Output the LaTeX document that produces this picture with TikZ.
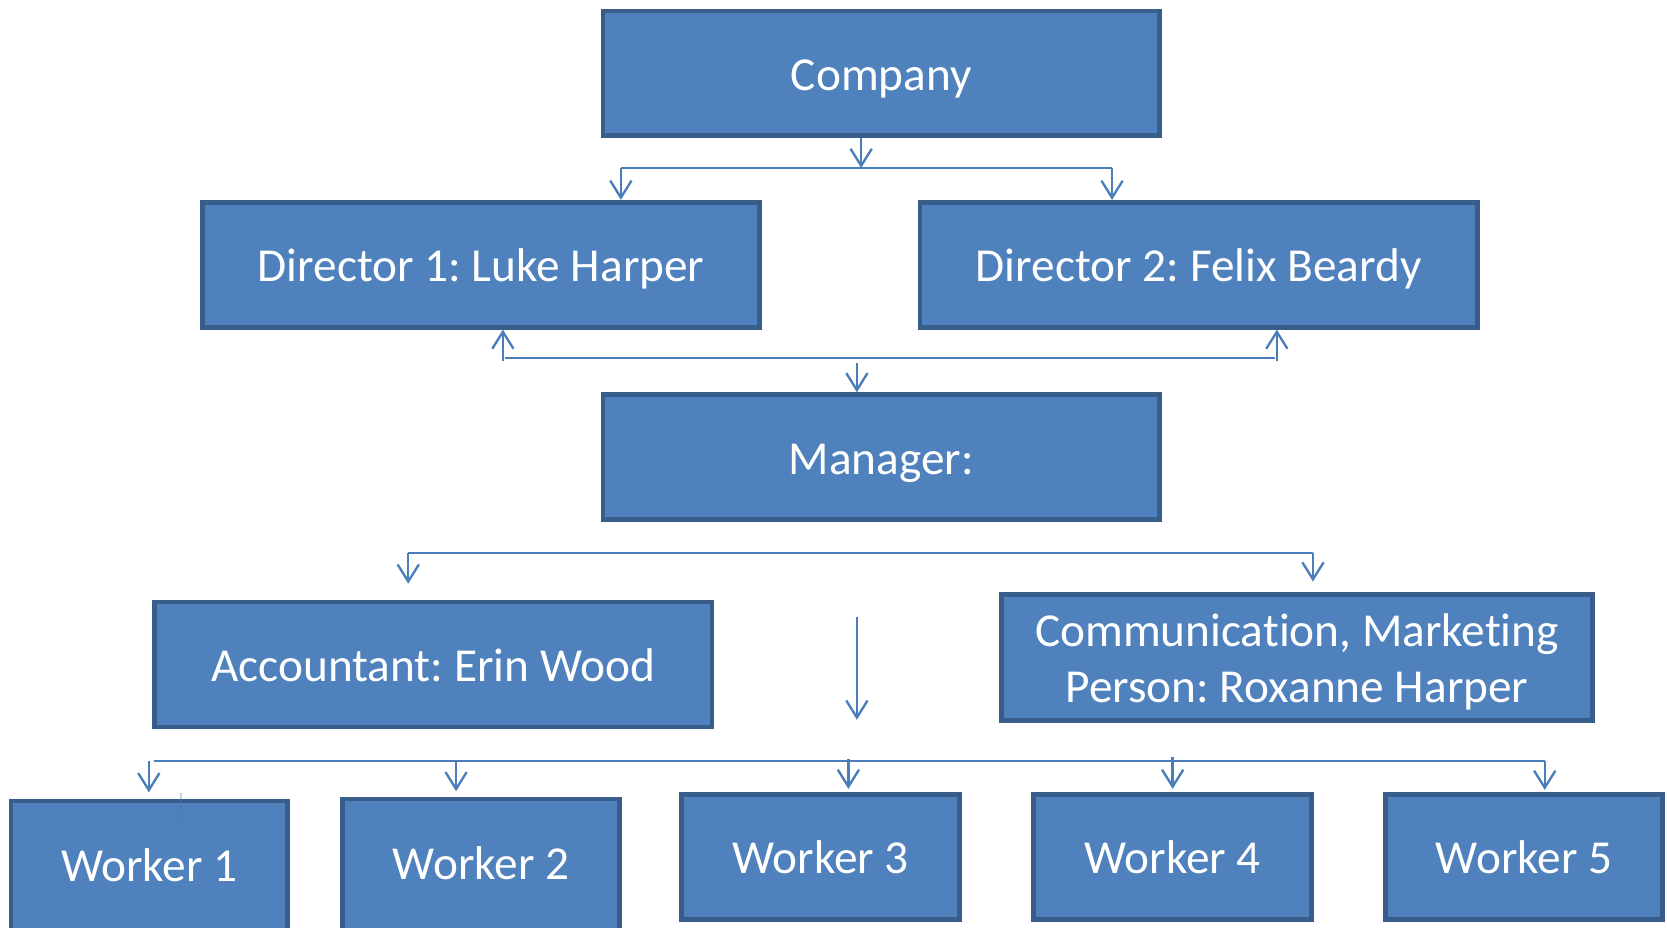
\documentclass[tikz,border=0pt]{standalone}
\usepackage{fontspec}
\setmainfont{Carlito}[Ligatures=NoCommon]
\usetikzlibrary{arrows.meta}
\definecolor{fillc}{HTML}{4F81BD}
\definecolor{bordc}{HTML}{385D8A}
\definecolor{connc}{HTML}{4A7EBB}
\tikzset{
  box/.style={draw=bordc, fill=fillc, line width=4.5pt, text=white, inner sep=0pt,
    minimum height=117.5pt, font=\fontsize{44.5}{53}\selectfont, align=center},
  oneline/.style={text height=40pt, text depth=8pt},
  conn/.style={draw=connc, line width=2.2pt},
  arr/.style={conn, -{Straight Barb[length=16pt,width=20pt]}},
}
\begin{document}
\frenchspacing
\begin{tikzpicture}[x=1pt,y=-1pt]
\useasboundingbox (0,0) rectangle (1568,872);
\clip (0,0) rectangle (1568,872);
% boxes
\node[box, oneline, minimum width=523.5pt] (company) at (829,69) {Company};
\node[box, oneline, minimum width=524.5pt] (d1) at (452.5,249) {Director 1: Luke Harper};
\node[box, oneline, minimum width=524.5pt] (d2) at (1127.5,249) {Director 2: Felix Beardy};
\node[box, oneline, minimum width=523.5pt] (manager) at (829,430) {Manager:};
\node[box, oneline, minimum width=524.5pt] (acct) at (407.5,625) {Accountant: Erin Wood};
\node[box, minimum width=555.5pt, minimum height=118.5pt] (comm) at (1220,618.5) {\rule{0pt}{39pt}Communication, Marketing\\Person: Roxanne Harper};
\node[box, oneline, minimum width=260.5pt, minimum height=125pt] (w1) at (140.5,816) {\raisebox{3pt}{Worker 1}};
\node[box, oneline, minimum width=260.5pt, minimum height=125pt] (w2) at (452.5,814) {\raisebox{3pt}{Worker 2}};
\node[box, oneline, minimum width=261.5pt] (w3) at (772,806) {Worker 3};
\node[box, oneline, minimum width=261.5pt] (w4) at (1103,806) {Worker 4};
\node[box, oneline, minimum width=260.5pt] (w5) at (1433.5,806) {Worker 5};
% top connectors
\coordinate (t1) at (810,158);
\coordinate (tl) at (584,158);
\coordinate (tr) at (1046,158);
\draw[arr] (company.south -| t1) -- (t1);
\draw[conn] (tl) -- (tr);
\draw[arr] (tl) -- (d1.north -| tl);
\draw[arr] (tr) -- (d2.north -| tr);
% middle connectors
\coordinate (ml) at (473,340);
\coordinate (mr) at (1201,340);
\coordinate (mla) at (475,337);
\coordinate (mra) at (1199,337);
\coordinate (mm) at (806,341);
\draw[conn] (mla) -- (mra);
\draw[arr] (ml) -- (d1.south -| ml);
\draw[arr] (mr) -- (d2.south -| mr);
\draw[arr] (mm) -- (manager.north -| mm);
% lower connectors
\coordinate (ll) at (384,520);
\coordinate (lr) at (1235,520);
\draw[conn] (ll) -- (lr);
\draw[arr, shorten >=15pt] (ll) -- (acct.north -| ll);
\draw[arr, shorten >=10pt] (lr) -- (comm.north -| lr);
\coordinate (fa) at (806,580);
\coordinate (fb) at (806,677);
\draw[arr] (fa) -- (fb);
% worker connectors
\coordinate (bl) at (145,716);
\coordinate (br) at (1453,716);
\draw[conn] (bl) -- (br);
\coordinate (b1) at (140,716);
\coordinate (b2) at (429,716);
\coordinate (b3) at (798,714);
\coordinate (b4) at (1103,712);
\draw[arr, shorten >=6pt] (b1) -- (w1.north -| b1);
\draw[arr, shorten >=5pt] (b2) -- (w2.north -| b2);
\draw[arr, shorten >=3pt] (b3) -- (w3.north -| b3);
\draw[arr, shorten >=3pt] (b4) -- (w4.north -| b4);
\draw[arr, shorten >=2pt] (br) -- (w5.north -| br);
\coordinate (g1) at (170,746);
\coordinate (g2) at (170,774);
\draw[arr, opacity=0.35] (g1) -- (g2);
\end{tikzpicture}
\end{document}
